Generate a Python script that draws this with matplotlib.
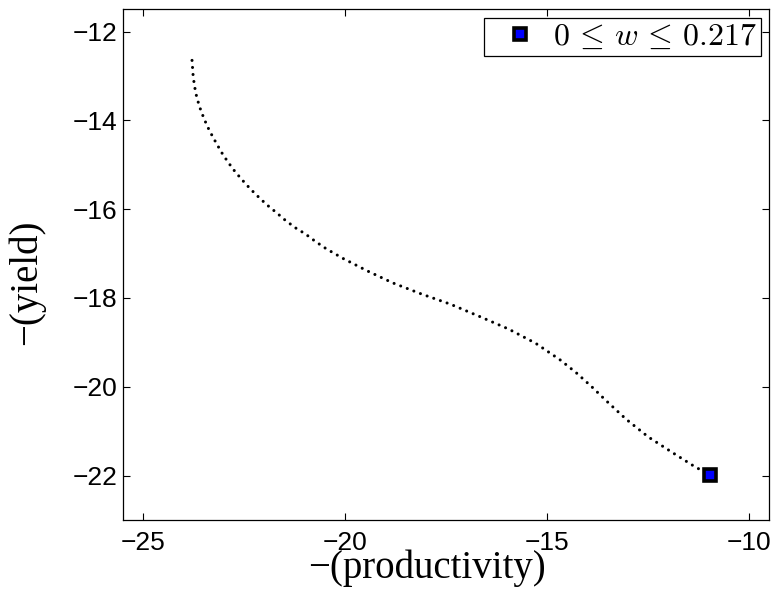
import matplotlib
matplotlib.use("Agg")
import matplotlib.pyplot as plt

# ---- data (Pareto front, w swept from 0 to 0.217) ----
prod = [-23.79, -23.76, -23.70, -23.61, -23.49, -23.36, -23.21, -23.06, -22.90, -22.72,
        -22.53, -22.34, -22.15, -21.94, -21.71, -21.48, -21.23, -20.98, -20.73, -20.47,
        -20.05, -19.45, -18.82, -18.11, -17.39, -16.66, -15.95, -15.28, -14.68, -14.28,
        -13.89, -13.55, -13.04, -12.49, -11.86, -11.32, -10.96]
yld = [-12.65, -13.03, -13.38, -13.68, -13.97, -14.23, -14.48, -14.72, -14.94, -15.16,
       -15.36, -15.55, -15.72, -15.90, -16.07, -16.25, -16.42, -16.56, -16.73, -16.89,
       -17.11, -17.39, -17.66, -17.91, -18.14, -18.42, -18.70, -19.02, -19.39, -19.68,
       -20.00, -20.30, -20.73, -21.13, -21.50, -21.81, -21.98]
w0_prod, w0_yld = [-10.96], [-21.98]
xticks = [-25, -20, -15, -10]
yticks = [-22, -20, -18, -16, -14, -12]

plt.rcParams.update({"font.family": "Liberation Sans", "mathtext.fontset": "cm"})
fig = plt.figure(figsize=(7.71, 5.9), dpi=100)
ax = fig.add_axes([0.1595, 0.1186, 0.838, 0.8656])

# dotted front + the w=0 end point
ax.plot(prod, yld, color="black", lw=2.2, linestyle=(0, (0.01, 2.3)),
        dash_capstyle="round")
ax.plot(w0_prod, w0_yld, "s", ms=8, mfc="#0000ff", mec="black", mew=2.6,
        label=r"$0\,\leq\,w\,\leq\,0.217$")

ax.set_xlim(-25.5, -9.5)
ax.set_ylim(-23, -11.5)
ax.set_xticks(xticks)
ax.set_yticks(yticks)
ax.set_xticklabels([f"\u2212{abs(t)}" for t in xticks])
ax.set_yticklabels([f"\u2212{abs(t)}" for t in yticks])
ax.tick_params(direction="in", top=True, right=True, length=5, width=0.8, labelsize=19)
ax.tick_params(axis="x", pad=8)
ax.tick_params(axis="y", pad=4)
for sp in ax.spines.values():
    sp.set_linewidth(0.9)

ax.set_xlabel("\u2212(productivity)", family="Liberation Serif", fontsize=28, va="center")
ax.set_ylabel("\u2212(yield)", family="Liberation Serif", fontsize=28, va="center")
ax.xaxis.set_label_coords(0.470, -0.094)
ax.yaxis.set_label_coords(-0.150, 0.465)

leg = ax.legend(loc="upper right", bbox_to_anchor=(0.9876, 0.9824), borderaxespad=0,
                fontsize=23, fancybox=False, framealpha=1, edgecolor="black",
                handlelength=2.0, handletextpad=0.05, borderpad=0.12, markerscale=1.0)
leg.get_frame().set_linewidth(0.9)

fig.savefig("out.png", facecolor="white")
